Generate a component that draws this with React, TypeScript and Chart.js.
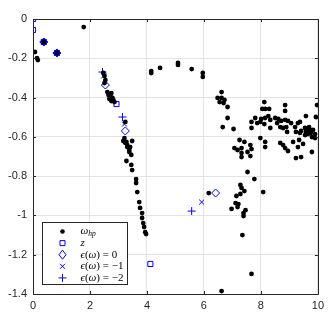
import React, { useEffect, useRef } from "react";
import { Chart, registerables } from "chart.js";

Chart.register(...registerables);

// omega_hp points
const hpX = [
  0.07, 0.14, 0.17, 0.38, 0.84, 1.78,
  2.47, 2.51, 2.54, 2.51, 2.61, 2.68, 2.72, 2.75, 2.79, 2.68, 2.82, 2.75, 2.86, 2.65,
  4.15, 4.15, 4.46, 5.09, 5.09, 5.57, 5.96, 5.96,
  3.24, 3.21, 3.28, 3.48, 3.31, 3.38, 3.17, 3.31, 3.38, 3.45, 3.28, 3.45, 3.48, 3.62, 3.62,
  3.66, 3.73, 3.76, 3.83, 3.83, 3.87, 3.9, 3.94, 3.97, 3.24, 3.41,
  6.62, 6.48, 6.62, 6.72, 6.55, 6.69, 6.83, 6.83, 6.66, 7.04,
  7.8, 7.67, 7.67, 7.87, 7.25, 7.42, 7.07, 7.18, 7.32, 7.63, 7.67, 7.32, 7.32, 7.63,
  8.12, 8.05, 8.15, 8.29, 8.85, 8.85, 9.97, 9.93, 9.58,
  7.98, 8.01, 8.15, 8.26, 8.33, 8.33, 8.12, 8.5, 8.61, 8.71, 8.57, 8.68, 8.78, 8.85, 8.95,
  8.89, 8.92, 9.06, 9.2, 9.3, 9.37, 9.23, 9.37, 9.41, 9.55, 9.58, 9.65, 9.72, 9.55, 9.69,
  9.83, 9.9, 9.79, 9.9, 7.98, 8.15, 8.15, 8.68, 8.78, 8.85, 8.95, 9.13, 9.34, 9.3, 9.48,
  9.23, 9.41, 9.79, 7.53, 9.62, 9.68, 9.6, 9.75,
  6.17, 7.53, 7.77, 8.08, 7.28, 7.32, 7.42, 7.28, 7.14, 7.11, 7.21, 7.18, 6.97, 7.46,
  7.39, 7.39, 7.35, 7.67, 6.62,
];
const hpY = [
  -0.168, -0.199, -0.209, -0.117, -0.173, -0.041,
  -0.275, -0.29, -0.311, -0.326, -0.372, -0.382, -0.392, -0.377, -0.402, -0.407, -0.412, -0.418, -0.423, -0.387,
  -0.265, -0.275, -0.249, -0.224, -0.234, -0.255, -0.275, -0.295,
  -0.524, -0.606, -0.626, -0.621, -0.652, -0.677, -0.621, -0.642, -0.667, -0.692, -0.723, -0.743, -0.769, -0.815, -0.835,
  -0.881, -0.932, -0.962, -0.988, -1.013, -1.039, -1.059, -1.085, -1.095, -0.631, -0.652,
  -0.372, -0.402, -0.402, -0.412, -0.423, -0.428, -0.448, -0.504, -0.55, -0.56,
  -0.504, -0.524, -0.555, -0.53, -0.616, -0.626, -0.657, -0.667, -0.657, -0.642, -0.662, -0.682, -0.703, -0.698,
  -0.423, -0.458, -0.458, -0.458, -0.438, -0.468, -0.438, -0.499, -0.494,
  -0.524, -0.509, -0.504, -0.494, -0.514, -0.555, -0.535, -0.504, -0.509, -0.519, -0.53, -0.55, -0.555, -0.514, -0.519,
  -0.55, -0.575, -0.53, -0.55, -0.53, -0.524, -0.575, -0.58, -0.57, -0.555, -0.575, -0.586, -0.565, -0.591, -0.55,
  -0.565, -0.586, -0.601, -0.606, -0.606, -0.626, -0.652, -0.631, -0.642, -0.657, -0.672, -0.626, -0.616, -0.652, -0.636,
  -0.708, -0.703, -0.677, -0.677, -0.57, -0.58, -0.56, -0.58,
  -0.886, -0.779, -0.815, -0.881, -0.845, -0.86, -0.876, -0.891, -0.901, -0.937, -0.942, -0.957, -0.967, -0.973,
  -0.988, -1.003, -1.1, -1.298, -1.385,
];

// z points
const zX = [0, 0, 0.38, 0.84, 2.93, 4.12];
const zY = [0, -0.056, -0.117, -0.173, -0.433, -1.247];

// eps(omega) = 0
const e0X = [0.38, 0.84, 2.54, 3.24, 6.41];
const e0Y = [-0.117, -0.173, -0.336, -0.57, -0.886];

// eps(omega) = -1
const em1X = [0.38, 0.84, 2.48, 3.21, 5.92];
const em1Y = [-0.117, -0.173, -0.29, -0.535, -0.932];

// eps(omega) = -2
const em2X = [0.38, 0.84, 2.44, 3.14, 5.57];
const em2Y = [-0.117, -0.173, -0.27, -0.499, -0.978];

const xTickValues = [0, 2, 4, 6, 8, 10];
const xTickLabels = ["0", "2", "4", "6", "8", "10"];
const yTickValues = [0, -0.2, -0.4, -0.6, -0.8, -1, -1.2, -1.4];
const yTickLabels = ["0", "-0.2", "-0.4", "-0.6", "-0.8", "-1", "-1.2", "-1.4"];

// legend labels as [text, italic, subscript] runs
type Run = [string, boolean, boolean];
const legendHp: Run[] = [["ω", true, false], ["hp", true, true]];
const legendZ: Run[] = [["z", true, false]];
const legendE0: Run[] = [["ϵ", true, false], ["(", false, false], ["ω", true, false], [") = 0", false, false]];
const legendEm1: Run[] = [["ϵ", true, false], ["(", false, false], ["ω", true, false], [") = −1", false, false]];
const legendEm2: Run[] = [["ϵ", true, false], ["(", false, false], ["ω", true, false], [") = −2", false, false]];
const legendLabels: Run[][] = [legendHp, legendZ, legendE0, legendEm1, legendEm2];

const AXIS = "#262626";
const GRID = "#e3e3e3";
const BLUE = "#0000ff";

function pts(xs: number[], ys: number[]) {
  return xs.map((x, i) => ({ x, y: ys[i] }));
}

function drawMarker(ctx: CanvasRenderingContext2D, kind: string, x: number, y: number) {
  ctx.save();
  ctx.lineWidth = 1;
  ctx.strokeStyle = BLUE;
  ctx.fillStyle = "#000";
  ctx.beginPath();
  if (kind === "dot") {
    ctx.arc(x, y, 2.3, 0, Math.PI * 2);
    ctx.fill();
  } else if (kind === "square") {
    ctx.rect(x - 2.5, y - 2.5, 5, 5);
    ctx.stroke();
  } else if (kind === "diamond") {
    ctx.moveTo(x, y - 4.5);
    ctx.lineTo(x + 3.5, y);
    ctx.lineTo(x, y + 4.5);
    ctx.lineTo(x - 3.5, y);
    ctx.closePath();
    ctx.stroke();
  } else if (kind === "x") {
    ctx.moveTo(x - 2.5, y - 2.5);
    ctx.lineTo(x + 2.5, y + 2.5);
    ctx.moveTo(x + 2.5, y - 2.5);
    ctx.lineTo(x - 2.5, y + 2.5);
    ctx.stroke();
  } else if (kind === "plus") {
    ctx.moveTo(x - 4, y);
    ctx.lineTo(x + 4, y);
    ctx.moveTo(x, y - 4);
    ctx.lineTo(x, y + 4);
    ctx.stroke();
  }
  ctx.restore();
}

const legendKinds = ["dot", "square", "diamond", "x", "plus"];

const decorPlugin = {
  id: "decor",
  afterDraw(chart: any) {
    const ctx: CanvasRenderingContext2D = chart.ctx;
    const { left, right, top, bottom } = chart.chartArea;
    const xs = chart.scales.x;
    const ys = chart.scales.y;
    ctx.save();
    ctx.strokeStyle = AXIS;
    ctx.lineWidth = 1;
    ctx.beginPath();
    ctx.rect(Math.round(left) + 0.5, Math.round(top) + 0.5, Math.round(right - left), Math.round(bottom - top));
    ctx.stroke();
    const tl = 3;
    ctx.beginPath();
    xTickValues.forEach((v) => {
      const px = Math.round(xs.getPixelForValue(v)) + 0.5;
      ctx.moveTo(px, bottom);
      ctx.lineTo(px, bottom - tl);
      ctx.moveTo(px, top);
      ctx.lineTo(px, top + tl);
    });
    yTickValues.forEach((v) => {
      const py = Math.round(ys.getPixelForValue(v)) + 0.5;
      ctx.moveTo(left, py);
      ctx.lineTo(left + tl, py);
      ctx.moveTo(right, py);
      ctx.lineTo(right - tl, py);
    });
    ctx.stroke();

    const lw = 85;
    const lh = 62;
    const lx = Math.round(left + 9) + 0.5;
    const ly = Math.round(bottom - 10 - lh) + 0.5;
    ctx.fillStyle = "#ffffff";
    ctx.fillRect(lx, ly, lw, lh);
    ctx.strokeStyle = AXIS;
    ctx.strokeRect(lx, ly, lw, lh);
    const rowH = 11.6;
    legendLabels.forEach((runs, i) => {
      const cy = ly + 9 + i * rowH;
      drawMarker(ctx, legendKinds[i], lx + 20, cy);
      let tx = lx + 38;
      ctx.fillStyle = "#000";
      ctx.textBaseline = "middle";
      runs.forEach(([t, it, sub]) => {
        const size = sub ? 7.5 : 11;
        ctx.font = `${it ? "italic " : ""}${size}px "Liberation Serif", "DejaVu Serif", serif`;
        ctx.fillText(t, tx, sub ? cy + 3 : cy);
        tx += ctx.measureText(t).width;
      });
    });
    ctx.restore();
  },
};

export default function App() {
  const ref = useRef<HTMLCanvasElement | null>(null);
  useEffect(() => {
    if (!ref.current) return;
    const chart = new Chart(ref.current, {
      type: "scatter",
      data: {
        datasets: [
          {
            label: "hp",
            data: pts(hpX, hpY),
            pointStyle: "circle",
            pointRadius: 2.4,
            pointBackgroundColor: "#000",
            pointBorderWidth: 0,
            borderColor: "#000",
          },
          {
            label: "z",
            data: pts(zX, zY),
            pointStyle: "rect",
            pointRadius: 3.6,
            pointBackgroundColor: "rgba(0,0,0,0)",
            pointBorderColor: BLUE,
            pointBorderWidth: 1,
          },
          {
            label: "e0",
            data: pts(e0X, e0Y),
            pointStyle: "rectRot",
            pointRadius: 4,
            pointBackgroundColor: "rgba(0,0,0,0)",
            pointBorderColor: BLUE,
            pointBorderWidth: 1,
          },
          {
            label: "em1",
            data: pts(em1X, em1Y),
            pointStyle: "crossRot",
            pointRadius: 3.5,
            pointBorderColor: BLUE,
            pointBorderWidth: 1,
          },
          {
            label: "em2",
            data: pts(em2X, em2Y),
            pointStyle: "cross",
            pointRadius: 4,
            pointBorderColor: BLUE,
            pointBorderWidth: 1,
          },
        ],
      },
      options: {
        animation: false,
        responsive: false,
        devicePixelRatio: 1,
        layout: { padding: { top: 19, right: 9, left: 0, bottom: 0 } },
        plugins: { legend: { display: false }, tooltip: { enabled: false } },
        scales: {
          x: {
            type: "linear",
            min: 0,
            max: 10,
            afterBuildTicks: (s: any) => {
              s.ticks = xTickValues.map((v) => ({ value: v }));
            },
            afterFit: (s: any) => {
              s.height = 35;
            },
            grid: { color: GRID, drawTicks: false },
            border: { display: false },
            ticks: {
              padding: 5,
              color: AXIS,
              font: { family: '"Liberation Sans", Arial, sans-serif', size: 11 },
              callback: (v: any) => {
                const i = xTickValues.findIndex((t) => Math.abs(t - v) < 1e-6);
                return i >= 0 ? xTickLabels[i] : "";
              },
            },
          },
          y: {
            type: "linear",
            min: -1.4,
            max: 0,
            afterBuildTicks: (s: any) => {
              s.ticks = yTickValues.map((v) => ({ value: v }));
            },
            afterFit: (s: any) => {
              s.width = 33;
            },
            grid: { color: GRID, drawTicks: false },
            border: { display: false },
            ticks: {
              padding: 6,
              color: AXIS,
              font: { family: '"Liberation Sans", Arial, sans-serif', size: 11 },
              callback: (v: any) => {
                const i = yTickValues.findIndex((t) => Math.abs(t - v) < 1e-6);
                return i >= 0 ? yTickLabels[i] : "";
              },
            },
          },
        },
      },
      plugins: [decorPlugin],
    } as any);
    return () => chart.destroy();
  }, []);
  return (
    <div style={{ position: "absolute", left: 0, top: 0, width: 329, height: 329 }}>
      <canvas ref={ref} width={329} height={329} />
    </div>
  );
}
